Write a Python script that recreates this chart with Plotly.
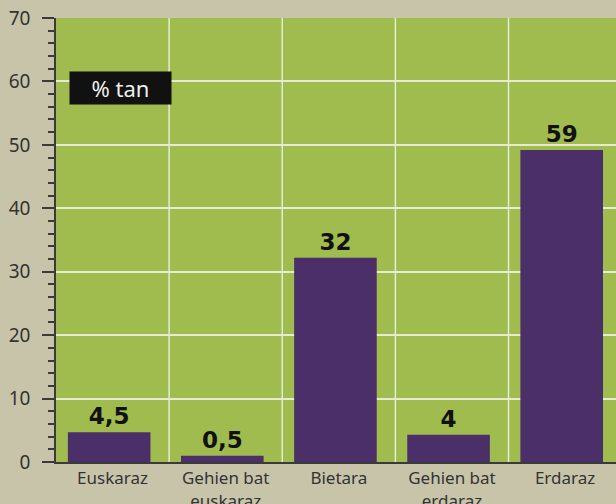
import plotly.graph_objects as go

categories = ["Euskaraz", "Gehien bat<br>euskaraz", "Bietara", "Gehien bat<br>erdaraz", "Erdaraz"]
bar_heights = [4.7, 1.0, 32.2, 4.3, 49.2]
value_labels = ["4,5", "0,5", "32", "4", "59"]
y_ticks = [0, 10, 20, 30, 40, 50, 60, 70]

PAPER = "#c8c4aa"
GREEN = "#a0bb4e"
PURPLE = "#4a2f68"

fig = go.Figure()
fig.add_trace(go.Bar(
    x=list(range(len(categories))),
    y=bar_heights,
    width=0.73,
    offset=-0.395,
    marker=dict(color=PURPLE, line=dict(width=0)),
    text=value_labels,
    textposition="outside",
    cliponaxis=False,
    textfont=dict(family="DejaVu Sans", size=23, color="#111111", weight="bold"),
))

fig.update_layout(
    width=616, height=504,
    margin=dict(l=56, r=0, t=18, b=42),
    paper_bgcolor=PAPER,
    plot_bgcolor=GREEN,
    showlegend=False,
    xaxis=dict(
        tickmode="array",
        tickvals=list(range(len(categories))),
        ticktext=categories,
        range=[-0.5, 4.45],
        showgrid=False,
        showline=True, linecolor="#3a3a3a", linewidth=2,
        ticks="",
        tickfont=dict(family="Noto Sans", size=17, color="#333333"),
        automargin=False,
        fixedrange=True,
    ),
    yaxis=dict(
        range=[0, 70],
        tickvals=y_ticks,
        showgrid=True, gridcolor="#e6ecd2", gridwidth=1.5,
        showline=True, linecolor="#3a3a3a", linewidth=1.5,
        ticks="outside", ticklen=12, tickcolor="#3a3a3a", tickwidth=1.5,
        minor=dict(dtick=2, ticks="outside", ticklen=6, tickcolor="#3a3a3a", showgrid=False),
        tickfont=dict(family="Noto Sans", size=19, color="#333333"),
        ticklabelstandoff=8,
        automargin=False,
        zeroline=False,
    ),
)

# vertical category separator lines
for b in [0.5, 1.5, 2.5, 3.5]:
    fig.add_shape(type="line", xref="x", yref="paper", x0=b, x1=b, y0=0, y1=1,
                  line=dict(color="#e6ecd2", width=1.5), layer="below")

fig.add_annotation(
    x=(69 - 56) / 560, y=(462 - 88) / 444, xref="paper", yref="paper",
    xanchor="left", yanchor="middle",
    text="% tan", showarrow=False,
    width=95, height=26,
    font=dict(family="Noto Sans", size=22, color="#eeeeee"),
    bgcolor="#111111", borderpad=3,
)

fig.write_html(
    "out.html",
    config={"displayModeBar": False},
    post_script="document.body.style.margin='0';document.body.style.background='" + PAPER + "';",
)
